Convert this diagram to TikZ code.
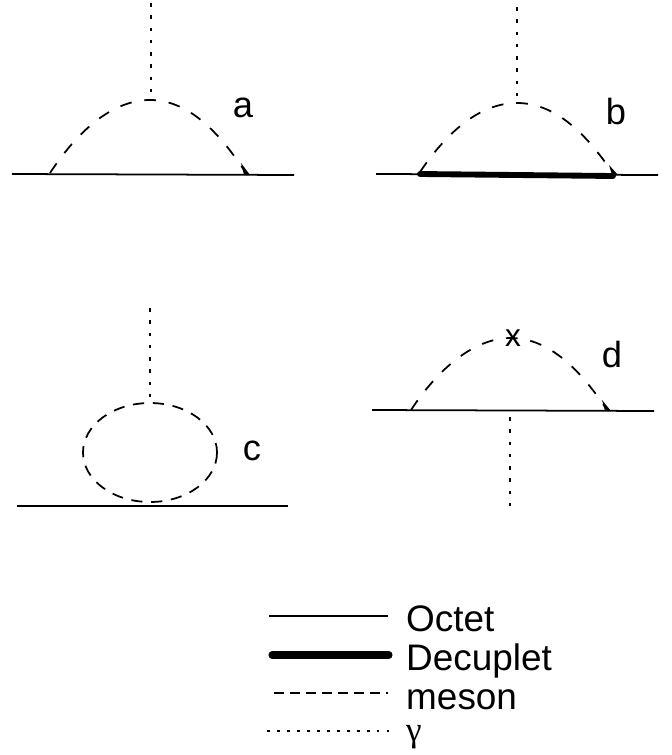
\documentclass[tikz,border=0pt]{standalone}
\usepackage{fontspec}
\setmainfont{Liberation Sans}
\newfontfamily\gammafont{Liberation Serif}
\usepackage{tikz}
\tikzset{
    octet/.style={line width=1.5pt},
    decuplet/.style={line width=6pt, line cap=round},
    meson/.style={line width=1.5pt, dash pattern=on 10pt off 11pt},
    loopmeson/.style={line width=1.5pt, dash pattern=on 9.5pt off 7.5pt},
    legmeson/.style={line width=1.4pt, dash pattern=on 8.5pt off 5.2pt},
    photon/.style={line width=1.7pt, dash pattern=on 3pt off 7.46pt},
    legphoton/.style={line width=1.4pt, dash pattern=on 2.5pt off 6pt},
    label/.style={inner sep=0pt, font=\fontsize{31}{31}\selectfont},
    legend/.style={inner sep=0pt, anchor=base west, font=\fontsize{31.5}{31.5}\selectfont}
}

\begin{document}
\begin{tikzpicture}[x=0.03cm,y=-0.03cm]
    \useasboundingbox (0,0) rectangle (672,755);
    % a
    \draw[octet] (12,174) to (294,175);
    \draw[meson] (50,173) .. controls (75,135) and (110,100) .. (150,100)
        .. controls (190,100) and (221,135) .. (246,173);
    \draw[photon] (151,3) to (151,93);
    \fill (241,163) to (250,175) to (244,175) to cycle;
    \node[label] (lab a) at (243,108) {a};
    % b
    \draw[octet] (376,174) to (658,175);
    \draw[decuplet, line width=5pt] (420,174) to (613,176);
    \draw[meson] (420,172) .. controls (445,135) and (478,103) .. (517,103)
        .. controls (556,103) and (587,135) .. (612,172);
    \draw[photon] (517,7) to (517,96);
    \fill (609,165) to (618,175) to (612,175) to cycle;
    \node[label] (lab b) at (616,112) {b};
    % c
    \draw[octet] (17,506) to (288,506);
    \draw[loopmeson] (150,452.5) ellipse (67 and 49.5);
    \draw[photon] (150,308) to (150,398);
    \node[label] (lab c) at (252,451) {c};
    % d
    \draw[octet] (372,410) to (654,411);
    \draw[meson] (411,410) .. controls (436,372) and (472,338) .. (511,338)
        .. controls (550,338) and (582,372) .. (607,410);
    \draw[photon] (510,417) to (510,506);
    \fill (602,400) to (611,411) to (605,411) to cycle;
    \node[label, font=\fontsize{27}{27}\selectfont] (lab x) at (513,338) {x};
    \node[label] (lab d) at (612,355) {d};
    % legend
    \draw[octet] (269,616) to (388,616);
    \draw[decuplet] (272,655) to (389,655);
    \draw[legmeson] (274,693) to (388,693);
    \draw[legphoton] (267,731) to (392,731);
    \node[legend] (oct) at (406,631) {Octet};
    \node[legend] (dec) at (406,670) {Decuplet};
    \node[legend] (mes) at (406,709) {meson};
    \node[legend, font=\gammafont\fontsize{30}{30}\selectfont] (gam) at (406,741) {γ};
\end{tikzpicture}
\end{document}
